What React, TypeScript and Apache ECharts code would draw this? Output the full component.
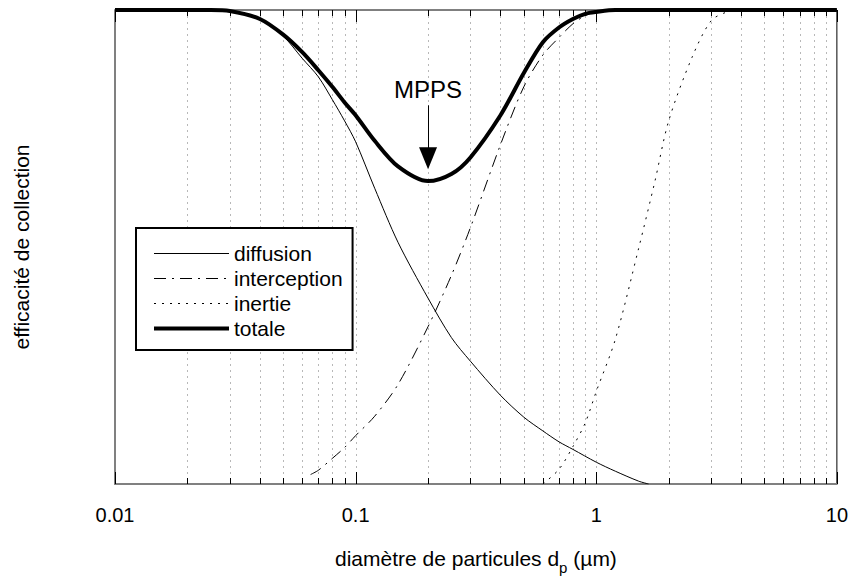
import React, { useEffect, useRef } from "react";
import * as echarts from "echarts";

// ---- data (particle diameter in µm, collection efficiency 0..1) ----
const totalD = [0.01, 0.02, 0.025, 0.03, 0.04, 0.05, 0.06, 0.07, 0.08, 0.09, 0.1, 0.12, 0.15, 0.2, 0.25, 0.3, 0.4, 0.5, 0.6, 0.7, 0.8, 0.9, 1, 1.2, 1.5, 2, 5, 10];
const totalE = [1, 1, 1, 0.998, 0.981, 0.948, 0.911, 0.873, 0.838, 0.805, 0.778, 0.724, 0.67, 0.639, 0.654, 0.689, 0.778, 0.867, 0.932, 0.963, 0.981, 0.992, 0.996, 1, 1, 1, 1, 1];

const diffD = [0.01, 0.02, 0.025, 0.03, 0.04, 0.05, 0.06, 0.07, 0.08, 0.09, 0.1, 0.12, 0.15, 0.2, 0.25, 0.3, 0.4, 0.5, 0.6, 0.7, 0.8, 1, 1.2, 1.5, 1.65];
const diffE = [1, 1, 0.999, 0.997, 0.98, 0.945, 0.898, 0.859, 0.811, 0.766, 0.722, 0.624, 0.51, 0.392, 0.309, 0.259, 0.187, 0.141, 0.112, 0.089, 0.073, 0.046, 0.027, 0.006, 0];

const intD = [0.065, 0.07, 0.08, 0.09, 0.1, 0.12, 0.15, 0.2, 0.25, 0.3, 0.4, 0.5, 0.6, 0.7, 0.8, 0.9, 1, 1.2, 2, 5, 10];
const intE = [0.02, 0.029, 0.054, 0.077, 0.102, 0.143, 0.21, 0.332, 0.44, 0.541, 0.716, 0.838, 0.905, 0.942, 0.971, 0.988, 0.996, 1, 1, 1, 1];

const inerD = [0.6, 0.7, 0.8, 0.9, 1, 1.2, 1.5, 1.75, 2, 2.5, 3, 3.5, 4, 10];
const inerE = [0, 0.031, 0.079, 0.129, 0.195, 0.305, 0.497, 0.637, 0.766, 0.9, 0.977, 0.996, 1, 1];

const seriesNames = ["diffusion", "interception", "inertie", "totale"];
const xMajorTicks = [0.01, 0.1, 1, 10];
const xTickLabels = ["0.01", "0.1", "1", "10"];
const minorMultipliers = [2, 3, 4, 5, 6, 7, 8, 9];

const mppsD = 0.2;
const mppsArrowFrom = 0.799;
const mppsArrowTo = 0.687;

const FONT = "'Liberation Sans', Arial, Helvetica, sans-serif";

function pairs(xs: number[], ys: number[]) {
  return xs.map((x, i) => [x, ys[i]]);
}

export default function App() {
  const ref = useRef<HTMLDivElement>(null);

  useEffect(() => {
    if (!ref.current) return;
    const chart = echarts.init(ref.current, undefined, { renderer: "svg" });

    const gridTicks: number[][] = [];
    xMajorTicks.forEach((m, i) => {
      gridTicks.push([m, 1]);
      if (i < xMajorTicks.length - 1) minorMultipliers.forEach((k) => gridTicks.push([m * k, 0]));
    });

    const dashInt = [12, 6, 2, 6];
    const dashIner = [2, 6];
    const hidden = { color: "rgba(0,0,0,0)", borderWidth: 0, opacity: 0 };

    const option: any = {
      animation: false,
      backgroundColor: "#fff",
      textStyle: { fontFamily: FONT },
      grid: { left: 115, right: 14, top: 10, bottom: 88, show: true, borderColor: "#000", borderWidth: 1 },
      legend: {
        left: 136,
        top: 228,
        orient: "vertical",
        padding: [15, 10, 11, 16],
        borderColor: "#000",
        borderWidth: 2,
        backgroundColor: "#fff",
        itemWidth: 75,
        itemHeight: 14,
        itemGap: 4,
        selectedMode: false,
        textStyle: { fontSize: 21, lineHeight: 21, color: "#000", fontFamily: FONT },
        data: [
          { name: "diffusion", itemStyle: hidden, lineStyle: { width: 1, type: "solid", color: "#000" } },
          { name: "interception", itemStyle: hidden, lineStyle: { width: 1, type: dashInt, color: "#000" } },
          { name: "inertie", itemStyle: hidden, lineStyle: { width: 1, type: dashIner, color: "#000" } },
          { name: "totale", itemStyle: hidden, lineStyle: { width: 4, type: "solid", color: "#000" } },
        ],
      },
      xAxis: {
        type: "log",
        logBase: 10,
        min: 0.01,
        max: 10,
        name: "diamètre de particules d{sub|p} (µm)",
        nameLocation: "middle",
        nameGap: 58,
        nameTextStyle: {
          fontSize: 21,
          color: "#000",
          fontFamily: FONT,
          rich: { sub: { fontSize: 15, padding: [18, 0, 0, 0], color: "#000", fontFamily: FONT } },
        },
        axisLine: { show: true, lineStyle: { color: "#808080", width: 2 } },
        axisTick: { show: false },
        splitLine: { show: false },
        axisLabel: {
          fontSize: 20,
          color: "#000",
          margin: 21,
          fontFamily: FONT,
          formatter: (v: number) => {
            const i = xMajorTicks.findIndex((m) => Math.abs(Math.log10(m) - Math.log10(v)) < 1e-6);
            return i >= 0 ? xTickLabels[i] : "";
          },
        },
      },
      yAxis: {
        type: "value",
        min: 0,
        max: 1,
        name: "efficacité de collection",
        nameLocation: "middle",
        nameRotate: 90,
        nameGap: 83,
        nameTextStyle: { fontSize: 21, color: "#000", fontFamily: FONT },
        axisLine: { show: true, lineStyle: { color: "#808080", width: 2 } },
        axisTick: { show: false },
        axisLabel: { show: false },
        splitLine: { show: false },
      },
      series: [
        {
          type: "custom",
          name: "grid",
          z: 1,
          silent: true,
          encode: { x: 0, y: 1 },
          data: gridTicks,
          renderItem: (params: any, api: any) => {
            const v = api.value(0);
            const major = api.value(1) === 1;
            const b = api.coord([v, 0]);
            const t = api.coord([v, 1]);
            const x = Math.round(b[0]) + 0.5;
            const len = major ? 12 : 6;
            const children: any[] = [
              { type: "line", shape: { x1: x, y1: b[1], x2: x, y2: b[1] - len }, style: { stroke: "#000", lineWidth: 1 } },
              { type: "line", shape: { x1: x, y1: t[1], x2: x, y2: t[1] + len }, style: { stroke: "#000", lineWidth: 1 } },
            ];
            if (v > 0.0101 && v < 9.99) {
              children.unshift({
                type: "line",
                shape: { x1: x, y1: t[1], x2: x, y2: b[1] },
                style: { stroke: "#b8b8b8", lineWidth: 1, lineDash: [2, 4] },
              });
            }
            return { type: "group", children };
          },
        },
        {
          name: seriesNames[0],
          type: "line",
          data: pairs(diffD, diffE),
          symbol: "none",
          smooth: 0.3,
          z: 3,
          lineStyle: { color: "#000", width: 1, type: "solid" },
          itemStyle: { color: "#000" },
        },
        {
          name: seriesNames[1],
          type: "line",
          data: pairs(intD, intE),
          symbol: "none",
          smooth: 0.3,
          z: 3,
          lineStyle: { color: "#000", width: 1, type: dashInt },
          itemStyle: { color: "#000" },
        },
        {
          name: seriesNames[2],
          type: "line",
          data: pairs(inerD, inerE),
          symbol: "none",
          smooth: 0.3,
          z: 3,
          lineStyle: { color: "#000", width: 1, type: dashIner },
          itemStyle: { color: "#000" },
        },
        {
          name: seriesNames[3],
          type: "line",
          data: pairs(totalD, totalE),
          symbol: "none",
          smooth: 0.3,
          z: 4,
          lineStyle: { color: "#000", width: 4, type: "solid" },
          itemStyle: { color: "#000" },
          markLine: {
            silent: true,
            animation: false,
            lineStyle: { color: "#000", width: 1, type: "solid" },
            label: {
              show: true,
              position: "start",
              formatter: "MPPS",
              fontSize: 24,
              color: "#000",
              fontFamily: FONT,
              distance: 4,
            },
            data: [
              [
                { coord: [mppsD, mppsArrowFrom], symbol: "none" },
                { coord: [mppsD, mppsArrowTo], symbol: "triangle", symbolSize: [18, 22] },
              ],
            ],
          },
        },
      ],
    };

    chart.setOption(option);
    return () => chart.dispose();
  }, []);

  return <div ref={ref} style={{ position: "absolute", left: 0, top: 0, width: 851, height: 580 }} />;
}
